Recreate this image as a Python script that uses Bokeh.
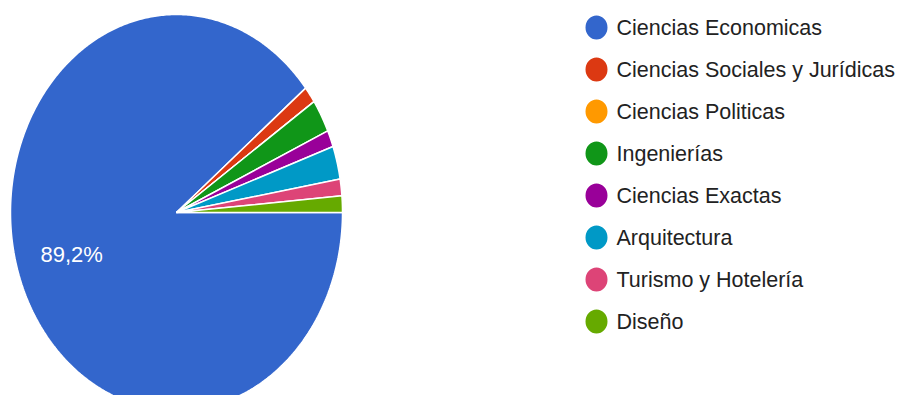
import numpy as np
from bokeh.plotting import figure
from bokeh.models import Range1d, ColumnDataSource
from bokeh.core.properties import value
from bokeh.embed import file_html
from bokeh.resources import INLINE

categories = ["Ciencias Economicas", "Ciencias Sociales y Jurídicas", "Ciencias Politicas",
              "Ingenierías", "Ciencias Exactas", "Arquitectura", "Turismo y Hotelería", "Diseño"]
counts = [66, 1, 0, 2, 1, 2, 1, 1]
colors = ["#3366cc", "#dc3912", "#ff9900", "#109618", "#990099", "#0099c6", "#dd4477", "#66aa00"]

W, H = 901, 395
RX, RY = 166, 198
p = figure(width=W, height=H, output_backend="svg", toolbar_location=None,
           x_range=Range1d(-176, 725), y_range=Range1d(212 - H, 212), min_border=0)
p.axis.visible = False
p.grid.visible = False
p.outline_line_color = None
p.background_fill_color = "white"

total = float(sum(counts))
fracs = np.array(counts) / total
ends = np.cumsum(fracs)
starts = ends - fracs
xs, ys = [], []
for s, e in zip(starts, ends):
    # start at 3 o'clock, go clockwise
    a0 = -2 * np.pi * s
    a1 = -2 * np.pi * e
    n = max(2, int(abs(a1 - a0) / 0.01))
    t = np.linspace(a0, a1, n)
    xs.append([0.0] + list(RX * np.cos(t)) + [0.0])
    ys.append([0.0] + list(RY * np.sin(t)) + [0.0])
src = ColumnDataSource(dict(xs=xs, ys=ys, color=colors))
p.patches("xs", "ys", fill_color="color", line_color="white", line_width=1.5, source=src)

# percentage label for the big slice
mid = -2 * np.pi * (starts[0] + ends[0]) / 2
lab = "{:.1f}%".format(fracs[0] * 100).replace(".", ",")
p.text(x=[0.67 * RX * np.cos(mid)], y=[0.64 * RY * np.sin(mid)], text=[lab],
       text_color="white", text_font=value("Liberation Sans"), text_font_size="22px",
       text_align="center", text_baseline="middle")

# legend
idx = np.arange(len(categories))
ly = 185 - 42 * idx
p.ellipse(x=[420] * len(categories), y=ly, width=22, height=24, fill_color=colors, line_color=None)
p.text(x=[440] * len(categories), y=ly, text=categories, text_color="#222222",
       text_font=value("Liberation Sans"), text_font_size="21.5px",
       text_align="left", text_baseline="middle")

open("out.html", "w").write(file_html(p, INLINE))
